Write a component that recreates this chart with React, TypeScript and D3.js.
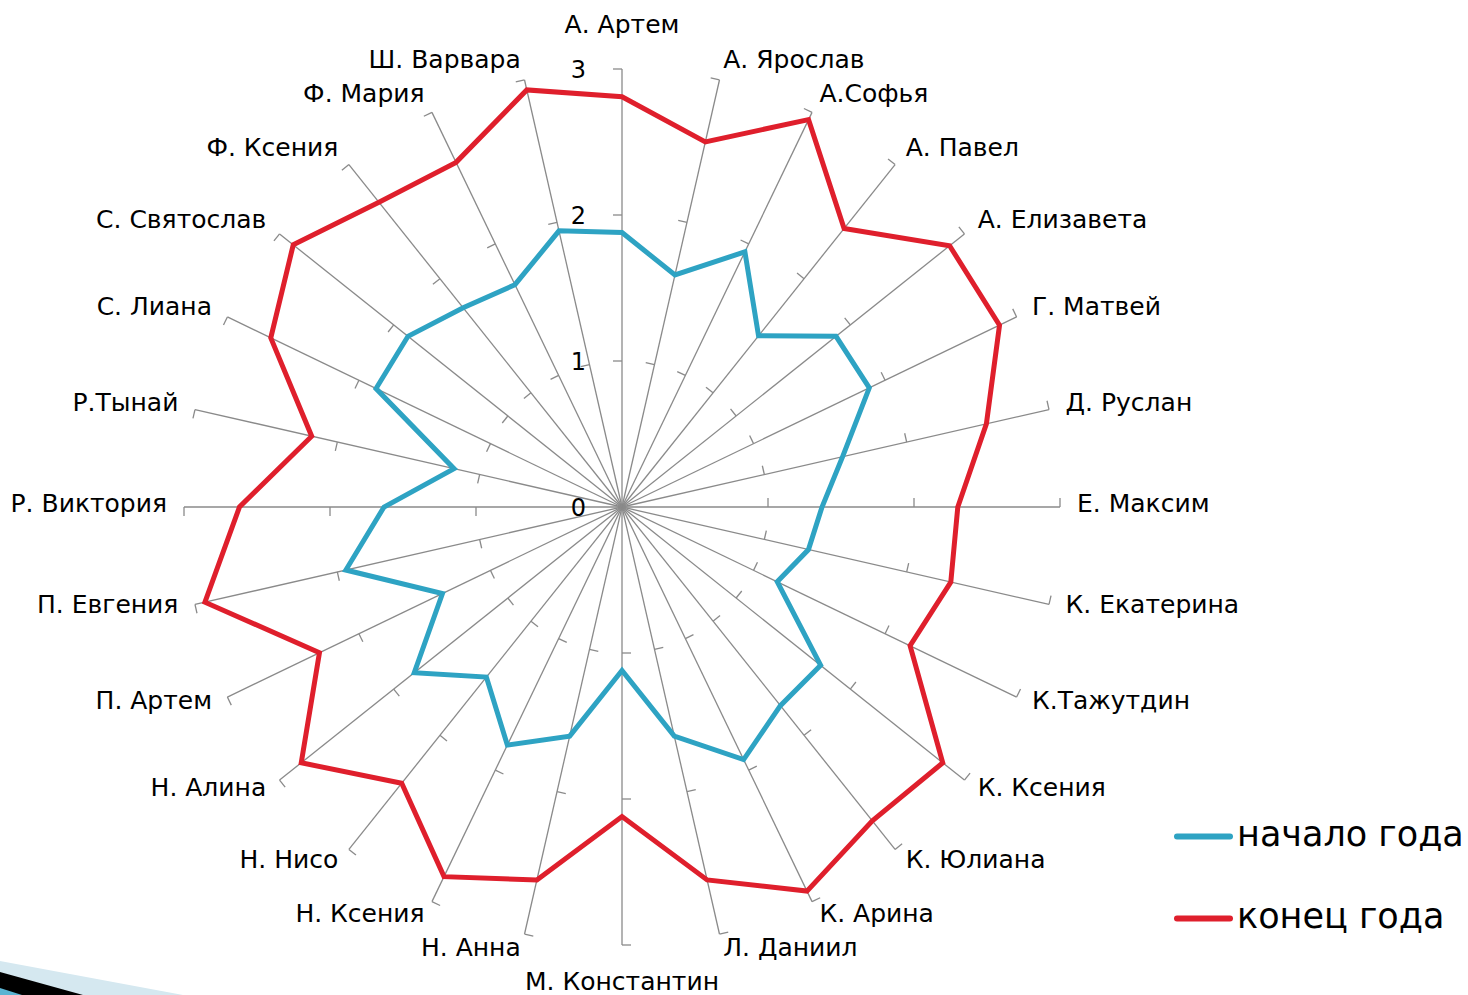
import React from "react";
import * as d3 from "d3";

const categories = [
  "А. Артем", "А. Ярослав", "А.Софья", "А. Павел", "А. Елизавета", "Г. Матвей", "Д. Руслан",
  "Е. Максим", "К. Екатерина", "К.Тажутдин", "К. Ксения", "К. Юлиана", "К. Арина", "Л. Даниил",
  "М. Константин", "Н. Анна", "Н. Ксения", "Н. Нисо", "Н. Алина", "П. Артем", "П. Евгения",
  "Р. Виктория", "Р.Тынай", "С. Лиана", "С. Святослав", "Ф. Ксения", "Ф. Мария", "Ш. Варвара",
];

const startValues = [
  1.88, 1.63, 1.94, 1.5, 1.875, 1.88, 1.55,
  1.37, 1.31, 1.18, 1.74, 1.74, 1.92, 1.61,
  1.12, 1.61, 1.81, 1.49, 1.82, 1.365, 1.94,
  1.63, 1.18, 1.87, 1.875, 1.745, 1.69, 1.94,
];

const endValues = [
  2.81, 2.565, 2.945, 2.44, 2.87, 2.87, 2.56,
  2.3, 2.31, 2.19, 2.81, 2.75, 2.92, 2.62,
  2.12, 2.62, 2.81, 2.42, 2.81, 2.3, 2.93,
  2.62, 2.18, 2.67, 2.88, 2.67, 2.62, 2.93,
];

const tickValues = [0, 1, 2, 3];
const seriesNames = ["начало года", "конец года"];
const seriesColors = ["#2ea3c3", "#df1f2c"];

const W = 1468;
const H = 995;
const CX = 622;
const CY = 507;
const FONT = "'DejaVu Sans', Verdana, sans-serif";

export default function App() {
  const r = d3.scaleLinear().domain([0, 3]).range([0, 438]);
  const angle = d3
    .scaleLinear()
    .domain([0, categories.length])
    .range([0, 2 * Math.PI]);

  const radial = d3
    .lineRadial<number>()
    .angle((_, i) => angle(i))
    .radius((d) => r(d))
    .curve(d3.curveLinearClosed);

  const pt = (i: number, rad: number) => {
    const a = angle(i);
    return [CX + rad * Math.sin(a), CY - rad * Math.cos(a)];
  };

  const labelR = 455;

  return (
    <svg
      width={W}
      height={H}
      style={{ position: "absolute", left: 0, top: 0, display: "block", background: "#fff" }}
      fontFamily={FONT}
    >
      {/* decorative corner */}
      <polygon points="0,961 183,995 0,995" fill="#d5e8f0" />
      <polygon points="0,972 83,995 0,995" fill="#000" />
      <polygon points="0,988 22,995 0,995" fill="#5ab4d2" />

      {/* spokes */}
      <g stroke="#8a8a8a" strokeWidth={1.3} fill="none">
        {categories.map((c, i) => {
          const [x2, y2] = pt(i, r(3));
          const a = angle(i);
          const dx = Math.sin(a);
          const dy = -Math.cos(a);
          const tx = dy;
          const ty = -dx;
          return (
            <g key={c}>
              <line x1={CX} y1={CY} x2={x2} y2={y2} />
              {tickValues.slice(1).map((t) => {
                const [px, py] = pt(i, r(t));
                return <line key={t} x1={px} y1={py} x2={px + tx * 9} y2={py + ty * 9} />;
              })}
            </g>
          );
        })}
      </g>

      {/* tick labels */}
      <g fontSize={24} fill="#000" textAnchor="end">
        {tickValues.map((t) => (
          <text key={t} x={CX - 36} y={CY - r(t) + 9}>
            {t}
          </text>
        ))}
      </g>

      {/* series */}
      <g transform={`translate(${CX},${CY})`} fill="none" strokeWidth={5} strokeLinejoin="miter">
        <path d={radial(startValues) || ""} stroke={seriesColors[0]} />
        <path d={radial(endValues) || ""} stroke={seriesColors[1]} />
      </g>

      {/* category labels */}
      <g fontSize={25} fill="#000">
        {categories.map((c, i) => {
          const a = angle(i);
          const s = Math.sin(a);
          const [x, y] = pt(i, labelR);
          let anchor = "start";
          let by = y + 5;
          if (Math.abs(s) < 0.01) {
            anchor = "middle";
            by = Math.cos(a) > 0 ? 33 : 990;
          } else if (s < 0) {
            anchor = "end";
          }
          return (
            <text key={c} x={x} y={by} textAnchor={anchor}>
              {c}
            </text>
          );
        })}
      </g>

      {/* legend */}
      <g>
        {seriesNames.map((n, k) => {
          const ly = 836.5 + k * 82;
          return (
            <g key={n}>
              <line
                x1={1177}
                x2={1230}
                y1={ly}
                y2={ly}
                stroke={seriesColors[k]}
                strokeWidth={6}
                strokeLinecap="round"
              />
              <text x={1237} y={ly + 9} fontSize={35} fill="#000">
                {n}
              </text>
            </g>
          );
        })}
      </g>
    </svg>
  );
}
